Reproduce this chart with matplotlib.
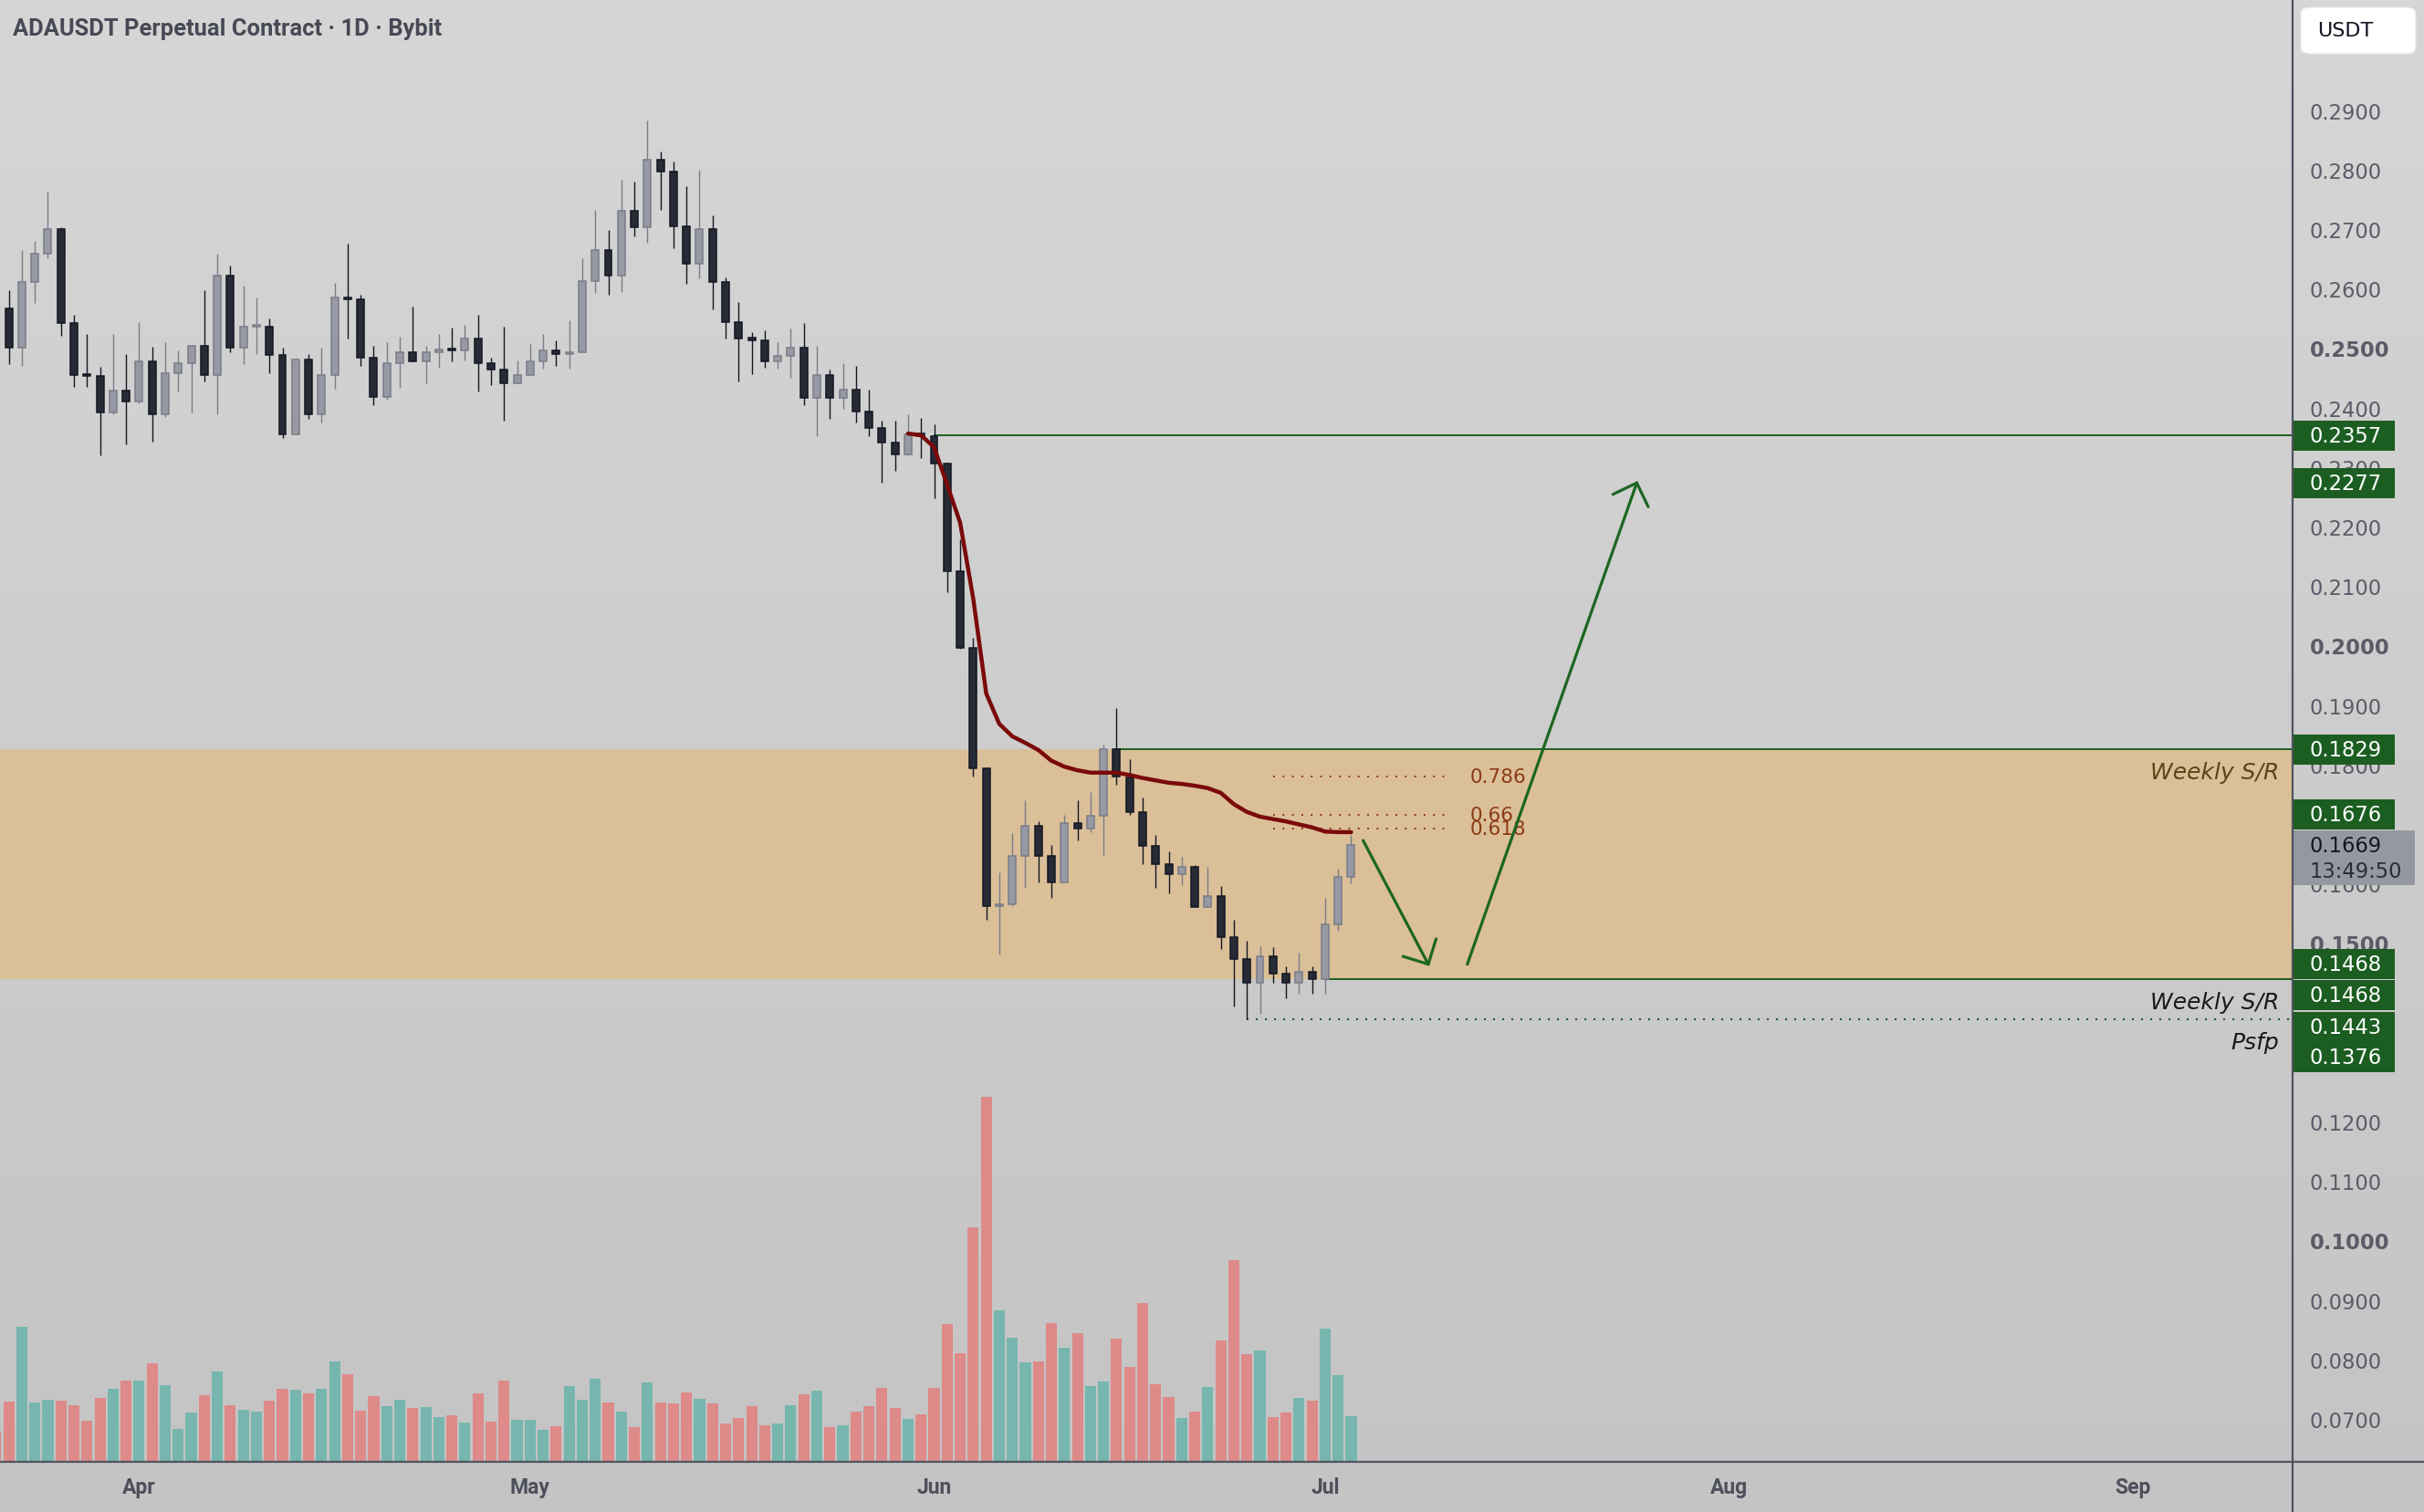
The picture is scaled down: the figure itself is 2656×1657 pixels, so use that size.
import numpy as np
import pandas as pd
import matplotlib
matplotlib.use("Agg")
import matplotlib.pyplot as plt
import matplotlib.dates as mdates
import matplotlib.transforms as mtransforms
from matplotlib.patches import Rectangle, FancyBboxPatch
from matplotlib.lines import Line2D

# ---------------- data ----------------
start_date = "2023-03-21"
open_ = [0.2659, 0.2570, 0.2504, 0.2614, 0.2662, 0.2703, 0.2545, 0.2459, 0.2456, 0.2395, 0.2432,
         0.2414, 0.2482, 0.2392, 0.2461, 0.2478, 0.2507, 0.2459, 0.2626, 0.2504, 0.2539,
         0.2539, 0.2492, 0.2358, 0.2485, 0.2393, 0.2458, 0.2589, 0.2585, 0.2488, 0.2421,
         0.2478, 0.2497, 0.2481, 0.2497, 0.2502, 0.2499, 0.2519, 0.2479, 0.2467, 0.2444,
         0.2459, 0.2481, 0.2499, 0.2493, 0.2496, 0.2617, 0.2668, 0.2625, 0.2734, 0.2706,
         0.2821, 0.2801, 0.2709, 0.2645, 0.2703, 0.2614, 0.2548, 0.2519, 0.2517, 0.2481,
         0.2490, 0.2505, 0.2420, 0.2458, 0.2420, 0.2434, 0.2397, 0.2370, 0.2345, 0.2325,
         0.2359,
         0.2356, 0.2309, 0.2128, 0.2000, 0.1797, 0.1565, 0.1569, 0.1650, 0.1701, 0.1650,
         0.1605, 0.1705, 0.1696, 0.1717, 0.1829, 0.1782, 0.1724, 0.1667, 0.1636, 0.1619,
         0.1631, 0.1564, 0.1582, 0.1514, 0.1476, 0.1437, 0.1482, 0.1452, 0.1437, 0.1455,
         0.1443, 0.1535, 0.1614]
high = [0.2675, 0.2601, 0.2668, 0.2684, 0.2767, 0.2707, 0.2559, 0.2527, 0.2472, 0.2527, 0.2494,
        0.2547, 0.2506, 0.2513, 0.2500, 0.2508, 0.2601, 0.2662, 0.2642, 0.2609, 0.2589,
        0.2553, 0.2504, 0.2488, 0.2494, 0.2504, 0.2613, 0.2679, 0.2593, 0.2508, 0.2513,
        0.2523, 0.2573, 0.2507, 0.2527, 0.2538, 0.2543, 0.2559, 0.2487, 0.2540, 0.2483,
        0.2510, 0.2527, 0.2517, 0.2550, 0.2655, 0.2736, 0.2702, 0.2787, 0.2783, 0.2886,
        0.2834, 0.2817, 0.2776, 0.2803, 0.2727, 0.2622, 0.2581, 0.2530, 0.2533, 0.2513,
        0.2537, 0.2546, 0.2507, 0.2468, 0.2478, 0.2473, 0.2433, 0.2381, 0.2381, 0.2392,
        0.2386,
        0.2375, 0.2311, 0.2182, 0.2017, 0.1797, 0.1622, 0.1688, 0.1744, 0.1708, 0.1668,
        0.1719, 0.1744, 0.1757, 0.1837, 0.1898, 0.1813, 0.1748, 0.1686, 0.1657, 0.1649,
        0.1635, 0.1631, 0.1599, 0.1542, 0.1507, 0.1498, 0.1496, 0.1464, 0.1487, 0.1464,
        0.1579, 0.1628, 0.1686]
low = [0.2545, 0.2477, 0.2474, 0.2580, 0.2655, 0.2525, 0.2439, 0.2439, 0.2323, 0.2393, 0.2342,
       0.2411, 0.2347, 0.2387, 0.2431, 0.2396, 0.2448, 0.2392, 0.2497, 0.2476, 0.2494,
       0.2462, 0.2353, 0.2358, 0.2384, 0.2379, 0.2436, 0.2519, 0.2473, 0.2407, 0.2417,
       0.2437, 0.2481, 0.2445, 0.2471, 0.2482, 0.2483, 0.2430, 0.2442, 0.2382, 0.2444,
       0.2459, 0.2469, 0.2473, 0.2469, 0.2496, 0.2597, 0.2594, 0.2598, 0.2692, 0.2681,
       0.2736, 0.2672, 0.2612, 0.2621, 0.2568, 0.2520, 0.2448, 0.2460, 0.2470, 0.2469,
       0.2454, 0.2408, 0.2356, 0.2384, 0.2402, 0.2379, 0.2356, 0.2278, 0.2298, 0.2324,
       0.2318,
       0.2252, 0.2094, 0.1998, 0.1784, 0.1542, 0.1484, 0.1566, 0.1597, 0.1605, 0.1580,
       0.1605, 0.1676, 0.1690, 0.1650, 0.1769, 0.1719, 0.1636, 0.1597, 0.1587, 0.1601,
       0.1564, 0.1564, 0.1494, 0.1397, 0.1376, 0.1384, 0.1437, 0.1410, 0.1419, 0.1419,
       0.1419, 0.1525, 0.1604]
close = [0.2569, 0.2504, 0.2614, 0.2662, 0.2703, 0.2545, 0.2458, 0.2457, 0.2395, 0.2432, 0.2414,
         0.2482, 0.2392, 0.2461, 0.2478, 0.2507, 0.2459, 0.2626, 0.2504, 0.2539, 0.2541,
         0.2492, 0.2358, 0.2485, 0.2393, 0.2458, 0.2589, 0.2585, 0.2488, 0.2421, 0.2478,
         0.2497, 0.2481, 0.2496, 0.2500, 0.2500, 0.2519, 0.2479, 0.2467, 0.2444, 0.2459,
         0.2481, 0.2499, 0.2493, 0.2496, 0.2617, 0.2668, 0.2625, 0.2734, 0.2706, 0.2821,
         0.2801, 0.2709, 0.2645, 0.2703, 0.2614, 0.2548, 0.2519, 0.2517, 0.2481, 0.2490,
         0.2505, 0.2420, 0.2458, 0.2420, 0.2434, 0.2397, 0.2370, 0.2345, 0.2325, 0.2358,
         0.2356,
         0.2309, 0.2128, 0.2000, 0.1797, 0.1565, 0.1569, 0.1650, 0.1701, 0.1650, 0.1605,
         0.1705, 0.1696, 0.1717, 0.1829, 0.1784, 0.1724, 0.1667, 0.1636, 0.1619, 0.1631,
         0.1564, 0.1582, 0.1514, 0.1476, 0.1437, 0.1482, 0.1452, 0.1437, 0.1455, 0.1443,
         0.1535, 0.1614, 0.1669]
volume = [32.7, 65.7, 147.7, 65.0, 67.7, 66.7, 61.7, 44.7, 69.7, 79.7, 88.7,
          88.7, 107.7, 83.7, 35.7, 53.7, 72.7, 98.7, 61.7, 56.7, 54.7,
          66.7, 79.7, 78.7, 74.7, 79.7, 109.7, 95.7, 55.7, 71.7, 60.7,
          67.7, 58.7, 59.7, 48.7, 50.7, 42.7, 74.7, 43.7, 88.7, 45.7,
          45.7, 34.7, 38.7, 82.7, 67.7, 90.7, 64.7, 54.7, 37.7, 86.7,
          64.7, 63.7, 75.7, 68.7, 63.7, 41.7, 47.7, 60.9, 39.9, 41.6,
          61.9, 73.7, 77.9, 37.7, 39.9, 54.8, 60.9, 80.8, 58.7, 46.6,
          51.6,
          80.8, 150.9, 118.9, 256.9, 399.6, 165.8, 135.9, 108.9, 109.6, 151.6,
          124.9, 140.9, 82.9, 87.9, 134.9, 103.9, 173.7, 84.7, 70.8, 47.7,
          54.8, 81.9, 132.7, 220.6, 117.8, 121.7, 48.8, 53.7, 69.8, 66.9,
          145.9, 94.7, 49.8]
ma_start = "2023-05-30"
ma_values = [0.2360, 0.2357,
             0.2337, 0.2274, 0.2210, 0.2083, 0.1923, 0.1872, 0.1851, 0.1840, 0.1828, 0.1810,
             0.1800, 0.1794, 0.1790, 0.1790, 0.1790, 0.1786, 0.1781, 0.1777, 0.1773, 0.1771,
             0.1768, 0.1764, 0.1756, 0.1737, 0.1724, 0.1716, 0.1712, 0.1708, 0.1703, 0.1698,
             0.1691, 0.1690, 0.1690]
month_labels = ["Apr", "May", "Jun", "Jul", "Aug", "Sep"]
month_dates = ["2023-04-01", "2023-05-01", "2023-06-01", "2023-07-01", "2023-08-01", "2023-09-01"]
price_ticks = [0.07, 0.08, 0.09, 0.10, 0.11, 0.12, 0.13, 0.14, 0.15, 0.16, 0.17, 0.18,
               0.19, 0.20, 0.21, 0.22, 0.23, 0.24, 0.25, 0.26, 0.27, 0.28, 0.29]
bold_ticks = [0.10, 0.15, 0.20, 0.25]
zone_low, zone_high = 0.1443, 0.1829
resistance = 0.2357
psfp = 0.1376
fib_low, fib_high = 0.1376, 0.1895
fib_ratios = [0.786, 0.66, 0.618]
fib_labels = ["0.786", "0.66", "0.618"]
tag_values = [0.2357, 0.2277, 0.1829, 0.1676, 0.1468, 0.1468, 0.1443, 0.1376]
last_price = 0.1669
countdown = "13:49:50"
down_arrow = [("2023-07-03 22:00", 0.1676), ("2023-07-08 22:00", 0.1468)]
up_arrow = [("2023-07-11 22:00", 0.1468), ("2023-07-24 22:00", 0.2277)]
title = "ADAUSDT Perpetual Contract · 1D · Bybit"

# ---------------- layout ----------------
W, H, DPI = 2656, 1658, 100
PLOT_W, PLOT_H = 2512, 1603
PX_PER_DAY = 14.28
JUN1_PX = 1023.5
YMIN, YMAX = 0.06316, 0.30902

plt.rcParams['font.family'] = ['DejaVu Sans']
fig = plt.figure(figsize=(W / DPI, H / DPI), dpi=DPI)

# background gradient
bg = fig.add_axes([0, 0, 1, 1])
t = np.linspace(0, 1, 256)[:, None, None]
c_top = np.array([214, 214, 214]) / 255.0
c_bot = np.array([196, 196, 196]) / 255.0
img = c_top * (1 - t) + c_bot * t
img = np.repeat(img, 2, axis=1)
bg.imshow(img, aspect='auto', extent=[0, 1, 0, 1], origin='upper')
bg.set_axis_off()

rect = [0, (H - PLOT_H) / H, PLOT_W / W, PLOT_H / H]
ax_v = fig.add_axes(rect)
ax = fig.add_axes(rect)
for a in (ax_v, ax):
    a.set_facecolor('none')
    for s in a.spines.values():
        s.set_visible(False)
    a.set_xticks([])
    a.set_yticks([])

dates = pd.date_range(start_date, periods=len(close), freq='D')
x = mdates.date2num(dates)
x_jun1 = mdates.date2num(pd.Timestamp("2023-06-01"))
x_left = x_jun1 - JUN1_PX / PX_PER_DAY
x_right = x_jun1 + (PLOT_W - JUN1_PX) / PX_PER_DAY
for a in (ax_v, ax):
    a.set_xlim(x_left, x_right)
ax.set_ylim(YMIN, YMAX)
dpp = (YMAX - YMIN) / PLOT_H  # data per pixel

o = np.array(open_); h = np.array(high); l = np.array(low); c = np.array(close)
up = c >= o

# volume
vol = np.array(volume)
ax_v.set_ylim(0, vol.max() * PLOT_H / 399.6)
ax_v.bar(x, vol, width=0.85, color=np.where(up, '#76b6ae', '#dd8a89'), linewidth=0)

# zone
ax.axhspan(zone_low, zone_high, color='#dbbf98', zorder=0.5, linewidth=0)

# candles
dark_body, dark_edge = '#272b36', '#131722'
light_body, light_edge = '#979aa4', '#7a7d88'
wick_cols = np.where(up, light_edge, dark_edge)
ax.vlines(x, l, h, colors=wick_cols, linewidth=1.0, zorder=3)
body_lo = np.minimum(o, c)
body_h = np.maximum(np.abs(c - o), 0.00035)
ax.bar(x, body_h, bottom=body_lo, width=0.56,
       color=np.where(up, light_body, dark_body),
       edgecolor=np.where(up, light_edge, dark_edge), linewidth=1.1, zorder=4)

# MA line
ma_x = mdates.date2num(pd.date_range(ma_start, periods=len(ma_values), freq='D'))
ax.plot(ma_x, ma_values, color='#7a0a0a', linewidth=3.2, zorder=5, solid_capstyle='round')

# horizontal levels
green = '#1e5f23'
def dnum(s):
    return mdates.date2num(pd.Timestamp(s))
ax.plot([dnum("2023-06-01"), x_right], [resistance, resistance], color=green, lw=1.4, zorder=2)
ax.plot([dnum("2023-06-15"), x_right], [zone_high, zone_high], color=green, lw=1.4, zorder=2)
ax.plot([dnum("2023-07-01"), x_right], [zone_low, zone_low], color=green, lw=1.4, zorder=2)
ax.plot([dnum("2023-06-25"), x_right], [psfp, psfp], color=green, lw=1.5,
        linestyle=(0, (1, 3.8)), zorder=2)

# fib levels
fib_col = '#8b3b14'
fx0, fx1 = dnum("2023-06-27"), dnum("2023-07-10 12:00")
for r, lab in zip(fib_ratios, fib_labels):
    lv = fib_low + r * (fib_high - fib_low)
    ax.plot([fx0, fx1], [lv, lv], color=fib_col, lw=1.4, linestyle=(0, (1, 4.3)), zorder=2)
    ax.text(dnum("2023-07-12 02:00"), lv, lab, color=fib_col, fontsize=15.5,
            va='center', ha='left', zorder=6)

# arrows
fig.canvas.draw()
def draw_arrow(p0, p1):
    (xa, ya), (xb, yb) = [(dnum(d), v) for d, v in (p0, p1)]
    ax.plot([xa, xb], [ya, yb], color='#1d6622', lw=2.3, solid_capstyle='round', zorder=6)
    A = ax.transData.transform((xa, ya)); B = ax.transData.transform((xb, yb))
    d = (A - B) / np.linalg.norm(A - B)
    inv = ax.transData.inverted()
    for ang in (np.deg2rad(45), -np.deg2rad(45)):
        R = np.array([[np.cos(ang), -np.sin(ang)], [np.sin(ang), np.cos(ang)]])
        wp = B + 29 * (R @ d)
        wd = inv.transform(wp)
        ax.plot([xb, wd[0]], [yb, wd[1]], color='#1d6622', lw=2.3,
                solid_capstyle='round', zorder=6)
draw_arrow(*down_arrow)
draw_arrow(*up_arrow)

# level texts
tr_ax_data = mtransforms.blended_transform_factory(ax.transAxes, ax.transData)
for lv, txt, col in [(zone_high, "Weekly S/R", '#5e4419'), (zone_low, "Weekly S/R", '#1a1a1a'),
                     (psfp, "Psfp", '#1a1a1a')]:
    ax.text(2497 / PLOT_W, lv - 25 * dpp, txt, transform=tr_ax_data, ha='right', va='center',
            fontsize=18, style='italic', color=col, zorder=6)

# title
fig.text(14 / W, 1 - 32 / H, title, fontsize=18.4, color='#474a55', va='center', ha='left',
         family=['Roboto', 'DejaVu Sans'], fontweight='bold')

# month labels
tr_data_ax = mtransforms.blended_transform_factory(ax.transData, ax.transAxes)
for lab, d in zip(month_labels, month_dates):
    ax.text(dnum(d), -28 / PLOT_H, lab, transform=tr_data_ax, ha='center', va='center',
            fontsize=16.5, color='#4d505b', fontweight='bold', family=['Roboto', 'DejaVu Sans'],
            clip_on=False)

# axis frame lines
fig.add_artist(Line2D([0, 1], [(H - PLOT_H) / H] * 2, color='#50535e', lw=1.6,
                      transform=fig.transFigure))
fig.add_artist(Line2D([PLOT_W / W] * 2, [0, 1], color='#50535e', lw=1.6,
                      transform=fig.transFigure))

# price tags layout (pixel nudges to stack overlapping tags, as the price scale does)
tr_fig_data = mtransforms.blended_transform_factory(fig.transFigure, ax.transData)
tag_offsets_px = [0, 0, 0, -29, 0, 34, 53, 42]
tag_boxes = []  # (center, half-height) in data units
for v, off in zip(tag_values, tag_offsets_px):
    tag_boxes.append((v - off * dpp, 16.5 * dpp))
last_center = last_price - 14.5 * dpp
tag_boxes.append((last_center, 30 * dpp))

def covered(v):
    # label (practically) hidden behind the stacked tags?
    ys = np.linspace(v - 7 * dpp, v + 7 * dpp, 15)
    return all(any(abs(yy - cc) <= hh + 2.5 * dpp for cc, hh in tag_boxes) for yy in ys)

# price scale labels
for v in price_ticks:
    if covered(v):
        continue
    isb = any(abs(v - b) < 1e-9 for b in bold_ticks)
    ax.text(2531 / W, v, f"{v:.4f}", transform=tr_fig_data, ha='left', va='center',
            fontsize=16.3, color='#5a5d68', fontweight='bold' if isb else 'normal',
            clip_on=False, zorder=7)

# price tags
tag_green = '#1c5e21'
for v, (yc, hh) in zip(tag_values, tag_boxes[:-1]):
    ax.add_patch(Rectangle((2513 / W, yc - hh), 111 / W, 2 * hh, transform=tr_fig_data,
                           facecolor=tag_green, edgecolor='none', clip_on=False, zorder=8))
    ax.text(2531 / W, yc, f"{v:.4f}", transform=tr_fig_data, ha='left', va='center',
            fontsize=16.3, color='white', clip_on=False, zorder=9)

# last price tag
yc = last_center
ax.add_patch(Rectangle((2513 / W, yc - 30 * dpp), 133 / W, 60 * dpp, transform=tr_fig_data,
                       facecolor='#9598a1', edgecolor='none', clip_on=False, zorder=8))
ax.text(2531 / W, yc + 14 * dpp, f"{last_price:.4f}", transform=tr_fig_data, ha='left',
        va='center', fontsize=16.3, color='#131722', clip_on=False, zorder=9)
ax.text(2531 / W, yc - 14 * dpp, countdown, transform=tr_fig_data, ha='left',
        va='center', fontsize=16.3, color='#2a2e39', clip_on=False, zorder=9)

# currency box
fig.add_artist(FancyBboxPatch((2521 / W, 1 - 60 / H), 126 / W, 51 / H,
                              boxstyle="round,pad=0,rounding_size=0.004",
                              transform=fig.transFigure, facecolor='white',
                              edgecolor='#e6e6e6', lw=1))
fig.text(2539 / W, 1 - 34 / H, "USDT", fontsize=16, color='#131722', ha='left', va='center')

fig.savefig("out.png", dpi=DPI)
